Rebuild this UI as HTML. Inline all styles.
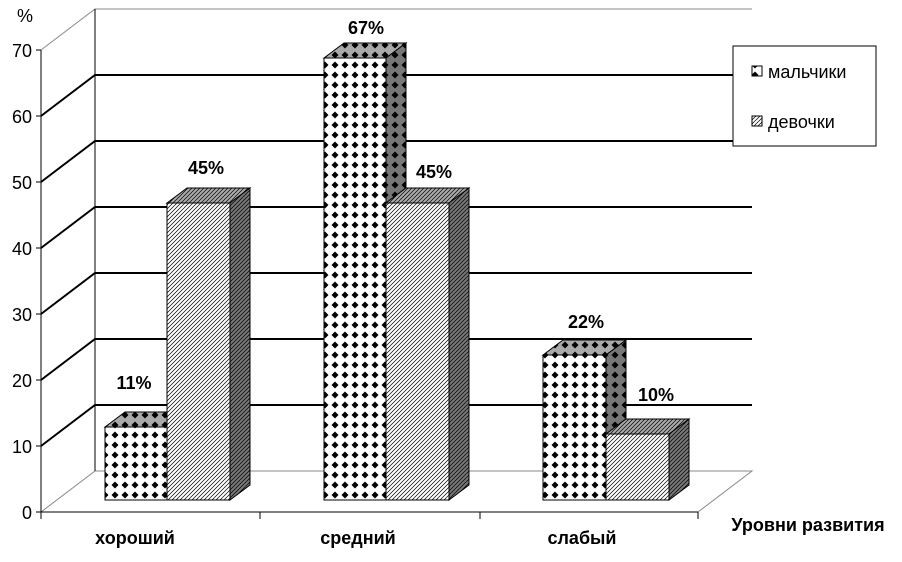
<!DOCTYPE html><html><head><style>body{margin:0;background:#fff}svg{display:block}text{font-family:"Liberation Sans",Arial,sans-serif}</style></head><body>
<svg width="902" height="562" xmlns="http://www.w3.org/2000/svg">
<defs>
<pattern id="dots" width="10" height="10" patternUnits="userSpaceOnUse"><rect width="10" height="10" fill="#fff"/><path d="M5 1.5L8.5 5L5 8.5L1.5 5Z" fill="#000"/></pattern>
<pattern id="dotsg" width="10" height="10" patternUnits="userSpaceOnUse"><rect width="10" height="10" fill="#aaa"/><path d="M5 1.5L8.5 5L5 8.5L1.5 5Z" fill="#000"/></pattern>
<pattern id="dotsd" width="10" height="10" patternUnits="userSpaceOnUse"><rect width="10" height="10" fill="#777"/><path d="M5 1.5L8.5 5L5 8.5L1.5 5Z" fill="#000"/></pattern>
<pattern id="hatch" width="4" height="4" patternUnits="userSpaceOnUse"><rect width="4" height="4" fill="#fff"/><path d="M0 4L4 0M-1 1L1 -1M3 5L5 3" stroke="#000" stroke-width="0.7"/></pattern>
<pattern id="hatchg" width="4" height="4" patternUnits="userSpaceOnUse"><rect width="4" height="4" fill="#aaa"/><path d="M0 4L4 0M-1 1L1 -1M3 5L5 3" stroke="#000" stroke-width="0.7"/></pattern>
<pattern id="hatchd" width="4" height="4" patternUnits="userSpaceOnUse"><rect width="4" height="4" fill="#777"/><path d="M0 4L4 0M-1 1L1 -1M3 5L5 3" stroke="#000" stroke-width="0.7"/></pattern>
</defs>
<g stroke="#000" fill="none">
<path d="M41 50L95 9H752" stroke="#888" stroke-width="1"/>
<path d="M41 116L95 75H752M41 182L95 141H752M41 248L95 207H752M41 314L95 273H752M41 380L95 339H752M41 446L95 405H752" stroke-width="2"/>
<path d="M41 512L95 471H752L698 512" stroke="#888" stroke-width="1"/>
<path d="M95 9V471" stroke-width="1"/>
<path d="M41 50V512H698" stroke-width="1"/>
<path d="M36 50H41M36 116H41M36 182H41M36 248H41M36 314H41M36 380H41M36 446H41M36 512H41M41 512V519M260 512V519M480 512V519M698 512V519" stroke-width="1"/>
</g>
<g font-size="18" text-anchor="end">
<text x="32" y="57">70</text><text x="32" y="123">60</text><text x="32" y="189">50</text><text x="32" y="255">40</text><text x="32" y="321">30</text><text x="32" y="387">20</text><text x="32" y="453">10</text><text x="32" y="519">0</text>
</g>
<text x="17" y="22" font-size="18">%</text>
<g stroke="#000" stroke-width="1">
<path d="M105 427L125 412H187L167 427Z" fill="url(#dotsg)"/>
<rect x="105" y="427" width="62" height="73" fill="url(#dots)"/>
<path d="M167 203L187 188H250L230 203Z" fill="url(#hatchg)"/>
<path d="M230 203L250 188V485L230 500Z" fill="url(#hatchd)"/>
<rect x="167" y="203" width="63" height="297" fill="url(#hatch)"/>
<path d="M324 58L344 43H406L386 58Z" fill="url(#dotsg)"/>
<path d="M386 58L406 43V188L386 203Z" fill="url(#dotsd)"/>
<rect x="324" y="58" width="62" height="442" fill="url(#dots)"/>
<path d="M386 203L406 188H469L449 203Z" fill="url(#hatchg)"/>
<path d="M449 203L469 188V485L449 500Z" fill="url(#hatchd)"/>
<rect x="386" y="203" width="63" height="297" fill="url(#hatch)"/>
<path d="M543 355L563 340H626L606 355Z" fill="url(#dotsg)"/>
<path d="M606 355L626 340V419L606 434Z" fill="url(#dotsd)"/>
<rect x="543" y="355" width="63" height="145" fill="url(#dots)"/>
<path d="M606 434L626 419H689L669 434Z" fill="url(#hatchg)"/>
<path d="M669 434L689 419V485L669 500Z" fill="url(#hatchd)"/>
<rect x="606" y="434" width="63" height="66" fill="url(#hatch)"/>
</g>
<g font-size="18" font-weight="bold" text-anchor="middle">
<text x="134" y="389">11%</text><text x="206" y="174">45%</text>
<text x="366" y="34">67%</text><text x="434" y="178">45%</text>
<text x="586" y="328">22%</text><text x="656" y="401">10%</text>
<text x="135" y="544">хороший</text><text x="358" y="544">средний</text><text x="582" y="544">слабый</text>
<text x="808" y="531">Уровни развития</text>
</g>
<rect x="733" y="46" width="143" height="100" fill="#fff" stroke="#000"/>
<rect x="752" y="66" width="10" height="10" fill="url(#dots)" stroke="#000"/>
<rect x="752" y="116" width="10" height="10" fill="url(#hatch)" stroke="#000"/>
<text x="768" y="78" font-size="18">мальчики</text>
<text x="768" y="128" font-size="18">девочки</text>
</svg>
</body></html>
